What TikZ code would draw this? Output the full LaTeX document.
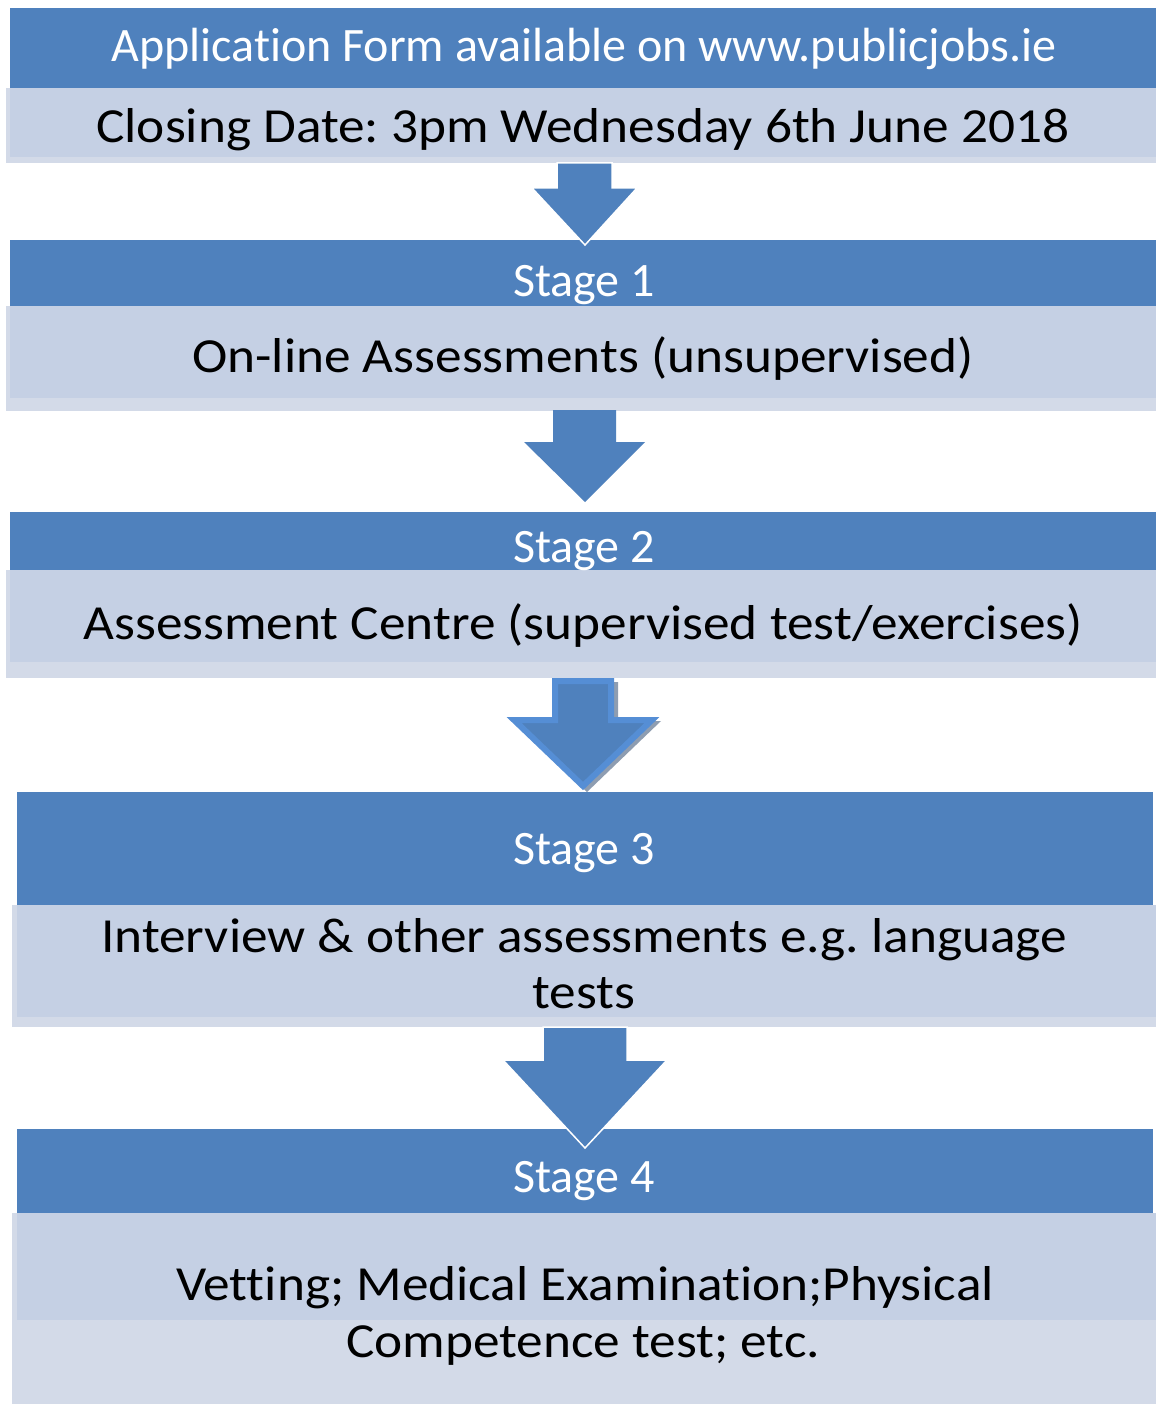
\documentclass[tikz,border=0pt]{standalone}
\usepackage{fontspec}
\setmainfont{Carlito}[Ligatures=NoCommon]
\frenchspacing
\definecolor{hblue}{HTML}{4F81BD}
\definecolor{bodyfill}{HTML}{C5D0E4}
\definecolor{bodyedge}{HTML}{D3DAE8}
\definecolor{arrowedge}{HTML}{558ED5}
\definecolor{shadowgray}{HTML}{8E9DB1}
\newcommand{\wideline}[1]{\scalebox{1.088}[1]{#1}}
\tikzset{
  hdr/.style={fill=hblue, draw=none, anchor=north west, inner sep=0pt, outer sep=0pt},
  bodybox/.style={fill=bodyfill, draw=none, anchor=north west, inner sep=0pt, outer sep=0pt},
  bodyrim/.style={fill=bodyedge, draw=none, anchor=north west, inner sep=0pt, outer sep=0pt},
  wtext/.style={text=white, anchor=base, inner sep=0pt, font=\fontsize{48}{57}\selectfont},
  btext/.style={text=black, anchor=base, inner sep=0pt, font=\fontsize{49}{58}\selectfont},
  blockarrow/.style={fill=hblue, draw=white, line width=1.5pt, line join=miter},
}
\begin{document}
\begin{tikzpicture}[x=1pt, y=-1pt]
\useasboundingbox (0,0) rectangle (1156,1404);
\fill[white] (0,0) rectangle (1156,1404);

% ---- block 0
\node[hdr, minimum width=1146pt, minimum height=80pt] (h0) at (10,8) {};
\node[bodyrim, minimum width=1150pt, minimum height=75pt] (r0) at (6,88) {};
\node[bodybox, minimum width=1146pt, minimum height=69pt] (b0) at (10,88) {};
\node[wtext] (t0) at (584,62) {Application Form available on www.publicjobs.ie};
\node[btext] (u0) at (583,143) {\wideline{Closing Date: 3pm Wednesday 6th June 2018}};

% ---- stage 1
\node[hdr, minimum width=1146pt, minimum height=66pt] (h1) at (10,240) {};
\node[bodyrim, minimum width=1150pt, minimum height=105pt] (r1) at (6,306) {};
\node[bodybox, minimum width=1146pt, minimum height=92pt] (b1) at (10,306) {};
\node[wtext] (t1) at (584,297) {Stage 1};
\node[btext] (u1) at (583,372) {\wideline{On-line Assessments (unsupervised)}};

% ---- stage 2
\node[hdr, minimum width=1146pt, minimum height=58pt] (h2) at (10,512) {};
\node[bodyrim, minimum width=1150pt, minimum height=108pt] (r2) at (6,570) {};
\node[bodybox, minimum width=1146pt, minimum height=92pt] (b2) at (10,570) {};
\node[wtext] (t2) at (584,562) {Stage 2};
\node[btext] (u2) at (583,639) {\wideline{Assessment Centre (supervised test/exercises)}};

% ---- stage 3
\node[hdr, minimum width=1136pt, minimum height=113pt] (h3) at (17,792) {};
\node[bodyrim, minimum width=1144pt, minimum height=122pt] (r3) at (12,905) {};
\node[bodybox, minimum width=1139pt, minimum height=112pt] (b3) at (17,905) {};
\node[wtext] (t3) at (584,864) {Stage 3};
\node[btext] (u3a) at (584,952) {\wideline{Interview \& other assessments e.g. language}};
\node[btext] (u3b) at (584,1008) {\wideline{tests}};

% ---- stage 4
\node[hdr, minimum width=1136pt, minimum height=84pt] (h4) at (17,1129) {};
\node[bodyrim, minimum width=1144pt, minimum height=191pt] (r4) at (12,1213) {};
\node[bodybox, minimum width=1139pt, minimum height=107pt] (b4) at (17,1213) {};
\node[wtext] (t4) at (584,1192) {Stage 4};
\node[btext] (u4a) at (585,1300) {\wideline{Vetting; Medical Examination;Physical}};
\node[btext] (u4b) at (583,1357) {\wideline{Competence test; etc.}};

% ---- arrows
\path[blockarrow] (557,163) -- (612,163) -- (612,188) -- (637,188) -- (585,245)
  -- (532,188) -- (557,188) -- cycle;
\path[blockarrow, draw=none] (553,410) -- (616,410) -- (616,442) -- (645,442) -- (585,502)
  -- (524,442) -- (553,442) -- cycle;
\fill[shadowgray] (556,682) -- (618,682) -- (618,721) -- (661,721) -- (587,792)
  -- (513,721) -- (556,721) -- cycle;
\path[fill=hblue, draw=arrowedge, line width=6pt, line join=miter]
  (555,681) -- (611,681) -- (611,720) -- (652,720) -- (583,786)
  -- (514,720) -- (555,720) -- cycle;
\path[blockarrow] (543,1027) -- (627,1027) -- (627,1060) -- (667,1060) -- (585,1148)
  -- (503,1060) -- (543,1060) -- cycle;
\end{tikzpicture}
\end{document}
